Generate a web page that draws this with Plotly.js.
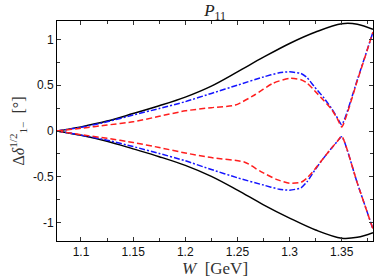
<!DOCTYPE html>
<html><head><meta charset="utf-8">
<script src="https://cdn.plot.ly/plotly-3.0.1.min.js"></script>
<style>html,body{margin:0;padding:0;background:#fff;}#chart{width:374px;height:278px;}</style>
</head><body><div id="chart"></div>
<script>
// Black solid (upper / lower)
const W_black = [1.077, 1.1, 1.125, 1.15, 1.175, 1.2, 1.225, 1.25, 1.275, 1.3, 1.325, 1.35, 1.365, 1.38];
const black_up = [0, 0.045, 0.108, 0.19, 0.275, 0.37, 0.49, 0.645, 0.805, 0.955, 1.08, 1.17, 1.165, 1.11];
const black_dn = [0, -0.047, -0.112, -0.195, -0.28, -0.375, -0.495, -0.645, -0.805, -0.95, -1.08, -1.17, -1.16, -1.11];

// Blue dash-dot (upper / lower)
const W_blue = [1.077, 1.1, 1.125, 1.15, 1.175, 1.2, 1.225, 1.25, 1.275, 1.29, 1.3, 1.311, 1.317, 1.324, 1.333, 1.34, 1.346, 1.35, 1.365, 1.38];
const blue_up = [0, 0.04, 0.10, 0.175, 0.245, 0.32, 0.41, 0.50, 0.59, 0.635, 0.645, 0.627, 0.58, 0.48, 0.36, 0.25, 0.14, 0.07, 0.56, 1.08];
const blue_dn = [0, -0.045, -0.10, -0.17, -0.245, -0.325, -0.42, -0.51, -0.59, -0.635, -0.645, -0.62, -0.55, -0.43, -0.29, -0.19, -0.11, -0.062, -0.57, -1.07];

// Red dashed (upper / lower)
const W_red_up = [1.077, 1.1, 1.125, 1.15, 1.175, 1.2, 1.225, 1.248, 1.266, 1.284, 1.3, 1.311, 1.317, 1.324, 1.333, 1.34, 1.346, 1.35, 1.365, 1.38];
const red_up = [0, 0.03, 0.065, 0.10, 0.16, 0.22, 0.255, 0.283, 0.39, 0.52, 0.575, 0.56, 0.52, 0.44, 0.33, 0.24, 0.13, 0.045, 0.55, 1.08];
const W_red_dn = [1.077, 1.1, 1.125, 1.15, 1.175, 1.2, 1.225, 1.257, 1.272, 1.288, 1.3, 1.311, 1.317, 1.324, 1.333, 1.34, 1.346, 1.35, 1.365, 1.38];
const red_dn = [0, -0.04, -0.08, -0.125, -0.18, -0.24, -0.29, -0.34, -0.44, -0.53, -0.57, -0.56, -0.51, -0.42, -0.29, -0.19, -0.11, -0.058, -0.57, -1.07];

const yTickVals = [-1, -0.5, 0, 0.5, 1];
const yTickText = ["-1", "-0.5", "0", "0.5", "1"];
const xTickVals = [1.1, 1.15, 1.2, 1.25, 1.3, 1.35];
const xTickText = ["1.1", "1.15", "1.2", "1.25", "1.3", "1.35"];

const blackLine = {color: '#000', width: 1.5, shape: 'spline', smoothing: 1};
const blueLine = {color: 'rgb(20,20,255)', width: 1.5, dash: '6px,2px,2px,2px', shape: 'spline', smoothing: 0.6};
const redLine = {color: 'rgb(255,30,30)', width: 1.5, dash: '6px,3px', shape: 'spline', smoothing: 0.6};

const traces = [
  {x: W_black, y: black_up, mode: 'lines', line: blackLine},
  {x: W_black, y: black_dn, mode: 'lines', line: blackLine},
  {x: W_blue, y: blue_up, mode: 'lines', line: blueLine},
  {x: W_blue, y: blue_dn, mode: 'lines', line: blueLine},
  {x: W_red_up, y: red_up, mode: 'lines', line: redLine},
  {x: W_red_dn, y: red_dn, mode: 'lines', line: redLine}
];
traces.forEach(t => { t.hoverinfo = 'skip'; t.showlegend = false; });

const axFont = {family: 'Liberation Sans, Arial, sans-serif', size: 12, color: '#111'};
const layout = {
  width: 374, height: 278,
  margin: {l: 57, r: 1, t: 21, b: 37},
  paper_bgcolor: '#fff', plot_bgcolor: '#fff',
  showlegend: false,
  title: {text: '<i>P</i><sub>11</sub>', x: 0.575, xanchor: 'center', y: 0.985, yanchor: 'top',
          font: {family: 'Liberation Serif, Times New Roman, serif', size: 17, color: '#222'}},
  xaxis: {
    range: [1.077, 1.38], tickmode: 'array', tickvals: xTickVals, ticktext: xTickText,
    ticks: 'inside', ticklen: 4, tickwidth: 1, tickcolor: '#333',
    minor: {tickmode: 'linear', tick0: 1.1, dtick: 0.025, ticks: 'inside', ticklen: 3, tickcolor: '#333', showgrid: false},
    showline: true, linecolor: '#000', linewidth: 1, mirror: 'allticks',
    showgrid: false, zeroline: false, tickfont: axFont,
    title: {text: '<i>W</i>  [GeV]', standoff: 2, font: {family: 'Liberation Serif, Times New Roman, serif', size: 17, color: '#333'}}
  },
  yaxis: {
    range: [-1.2, 1.2], tickmode: 'array', tickvals: yTickVals, ticktext: yTickText,
    ticks: 'inside', ticklen: 4, tickwidth: 1, tickcolor: '#333',
    minor: {tickmode: 'linear', tick0: 0, dtick: 0.25, ticks: 'inside', ticklen: 3, tickcolor: '#333', showgrid: false},
    showline: true, linecolor: '#000', linewidth: 1, mirror: 'allticks',
    showgrid: false, zeroline: false, tickfont: axFont,
    title: {text: 'Δ<i>δ</i><sup>1/2</sup><sub>1−</sub>  [°]', standoff: 4, font: {family: 'Liberation Serif, Times New Roman, serif', size: 16, color: '#333'}}
  }
};
Plotly.newPlot('chart', traces, layout, {displayModeBar: false, staticPlot: true});
</script></body></html>
